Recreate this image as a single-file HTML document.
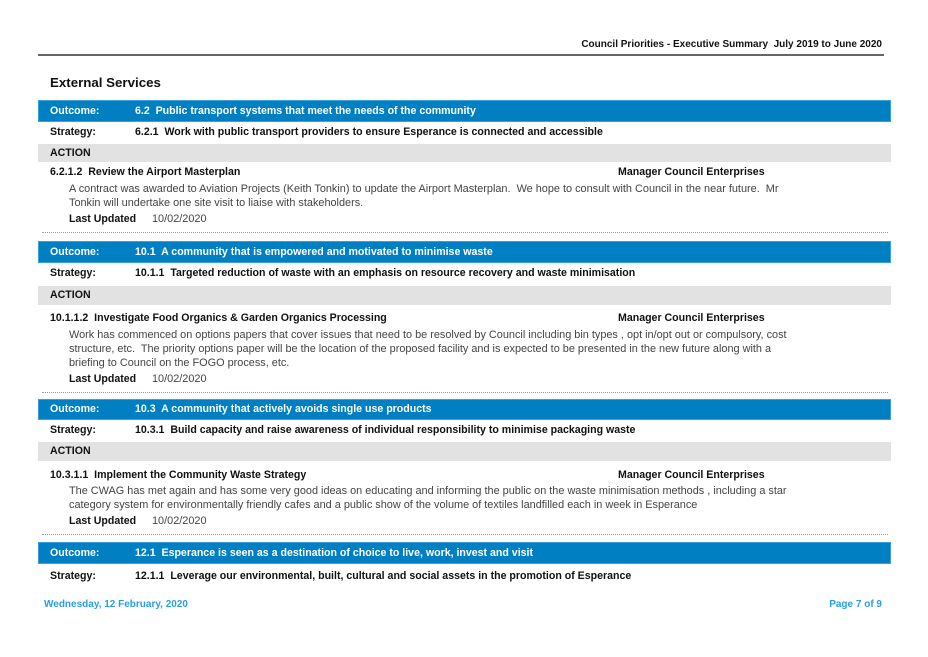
<!DOCTYPE html>
<html><head><meta charset="utf-8"><style>
*{margin:0;padding:0;box-sizing:border-box}
body{width:928px;height:657px;background:#fff;position:relative;overflow:hidden;font-family:"Liberation Sans",Arial,sans-serif;font-size:11px;color:#111}
.t{position:absolute;line-height:14px;white-space:nowrap}
.b{font-weight:bold;font-size:10.6px}
.bar{position:absolute;left:38px;width:853px;height:22px;background:#0080c2;border:1px solid #3aa0dc}
.grey{position:absolute;left:38px;width:853px;background:#e2e2e2}
.dot{position:absolute;left:42px;width:846px;border-top:1px dotted #999}
.w{color:#fff;font-weight:bold;font-size:10.6px}
.body{color:#444;font-size:10.9px}
.f{color:#2a9fe0;font-weight:bold;font-size:10px}
</style></head><body>
<div class="t b" style="right:46px;top:38px;font-size:10px">Council Priorities - Executive Summary&nbsp; July 2019 to June 2020</div>
<div style="position:absolute;left:38px;top:54px;width:846px;height:2px;background:#666"></div>
<div class="t b" style="left:50px;top:75px;font-size:13.3px;line-height:16px">External Services</div>

<div class="bar" style="top:100px"></div>
<div class="t w" style="left:50px;top:104px">Outcome:</div>
<div class="t w" style="left:135px;top:104px">6.2&nbsp; Public transport systems that meet the needs of the community</div>
<div class="t b" style="left:50px;top:125px">Strategy:</div>
<div class="t b" style="left:135px;top:125px">6.2.1&nbsp; Work with public transport providers to ensure Esperance is connected and accessible</div>
<div class="grey" style="top:144px;height:18px"></div>
<div class="t b" style="left:50px;top:146px">ACTION</div>
<div class="t b" style="left:50px;top:165px">6.2.1.2&nbsp; Review the Airport Masterplan</div>
<div class="t b" style="left:618px;top:165px">Manager Council Enterprises</div>
<div class="t body" style="left:69px;top:182px">A contract was awarded to Aviation Projects (Keith Tonkin) to update the Airport Masterplan.&nbsp; We hope to consult with Council in the near future.&nbsp; Mr</div>
<div class="t body" style="left:69px;top:196px">Tonkin will undertake one site visit to liaise with stakeholders.</div>
<div class="t b" style="left:69px;top:212px">Last Updated</div>
<div class="t body" style="left:152px;top:212px">10/02/2020</div>
<div class="dot" style="top:232px"></div>

<div class="bar" style="top:241px"></div>
<div class="t w" style="left:50px;top:245px">Outcome:</div>
<div class="t w" style="left:135px;top:245px">10.1&nbsp; A community that is empowered and motivated to minimise waste</div>
<div class="t b" style="left:50px;top:266px">Strategy:</div>
<div class="t b" style="left:135px;top:266px">10.1.1&nbsp; Targeted reduction of waste with an emphasis on resource recovery and waste minimisation</div>
<div class="grey" style="top:286px;height:19px"></div>
<div class="t b" style="left:50px;top:288px">ACTION</div>
<div class="t b" style="left:50px;top:311px">10.1.1.2&nbsp; Investigate Food Organics &amp; Garden Organics Processing</div>
<div class="t b" style="left:618px;top:311px">Manager Council Enterprises</div>
<div class="t body" style="left:69px;top:328px">Work has commenced on options papers that cover issues that need to be resolved by Council including bin types , opt in/opt out or compulsory, cost</div>
<div class="t body" style="left:69px;top:342px">structure, etc.&nbsp; The priority options paper will be the location of the proposed facility and is expected to be presented in the new future along with a</div>
<div class="t body" style="left:69px;top:356px">briefing to Council on the FOGO process, etc.</div>
<div class="t b" style="left:69px;top:372px">Last Updated</div>
<div class="t body" style="left:152px;top:372px">10/02/2020</div>
<div class="dot" style="top:392px"></div>

<div class="bar" style="top:399px;height:21px"></div>
<div class="t w" style="left:50px;top:402px">Outcome:</div>
<div class="t w" style="left:135px;top:402px">10.3&nbsp; A community that actively avoids single use products</div>
<div class="t b" style="left:50px;top:423px">Strategy:</div>
<div class="t b" style="left:135px;top:423px">10.3.1&nbsp; Build capacity and raise awareness of individual responsibility to minimise packaging waste</div>
<div class="grey" style="top:442px;height:19px"></div>
<div class="t b" style="left:50px;top:444px">ACTION</div>
<div class="t b" style="left:50px;top:468px">10.3.1.1&nbsp; Implement the Community Waste Strategy</div>
<div class="t b" style="left:618px;top:468px">Manager Council Enterprises</div>
<div class="t body" style="left:69px;top:484px">The CWAG has met again and has some very good ideas on educating and informing the public on the waste minimisation methods , including a star</div>
<div class="t body" style="left:69px;top:498px">category system for environmentally friendly cafes and a public show of the volume of textiles landfilled each in week in Esperance</div>
<div class="t b" style="left:69px;top:514px">Last Updated</div>
<div class="t body" style="left:152px;top:514px">10/02/2020</div>
<div class="dot" style="top:534px"></div>

<div class="bar" style="top:542px"></div>
<div class="t w" style="left:50px;top:546px">Outcome:</div>
<div class="t w" style="left:135px;top:546px">12.1&nbsp; Esperance is seen as a destination of choice to live, work, invest and visit</div>
<div class="t b" style="left:50px;top:569px">Strategy:</div>
<div class="t b" style="left:135px;top:569px">12.1.1&nbsp; Leverage our environmental, built, cultural and social assets in the promotion of Esperance</div>

<div class="t f" style="left:44px;top:598px">Wednesday, 12 February, 2020</div>
<div class="t f" style="right:46px;top:598px">Page 7 of 9</div>
</body></html>
